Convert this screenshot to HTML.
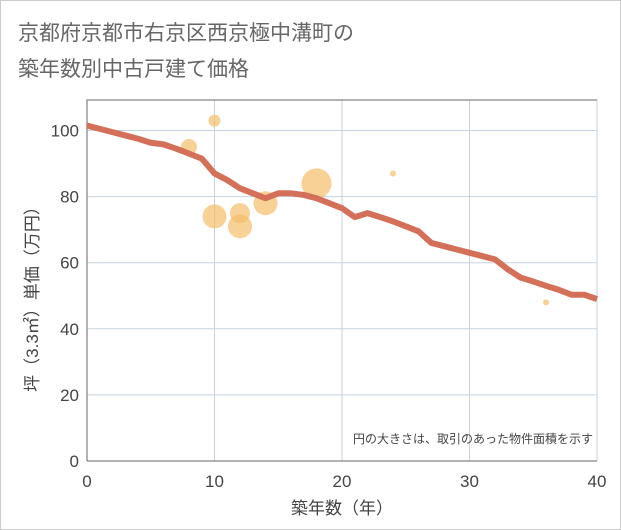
<!DOCTYPE html>
<html><head><meta charset="utf-8"><style>
body{margin:0;background:#fff;font-family:"Liberation Sans","Noto Sans CJK JP",sans-serif}
</style></head><body>
<svg width="621" height="530" viewBox="0 0 621 530" style="display:block">
<rect x="0.5" y="0.5" width="620" height="529" fill="#fff" stroke="#ccc"/>
<text x="18" y="40" font-size="21" fill="#666" font-family="Liberation Sans,Noto Sans CJK JP,sans-serif">京都府京都市右京区西京極中溝町の</text>
<text x="18" y="76" font-size="21" fill="#666" font-family="Liberation Sans,Noto Sans CJK JP,sans-serif">築年数別中古戸建て価格</text>
<g id="plot"></g>
</svg>
<script>
const lineX=[0,1,2,3,4,5,6,7,8,9,10,11,12,13,14,15,16,17,18,19,20,21,22,23,24,25,26,27,28,29,30,31,32,33,34,35,36,37,38,39,40];
const lineY=[101.5,100.5,99.5,98.5,97.5,96.3,95.8,94.5,93,91.5,87,85,82.5,81,79.5,81,81,80.5,79.5,78,76.5,73.8,75,73.8,72.5,71,69.5,66,65,64,63,62,61,60,58,55.5,54.3,53,51.8,50.3,50.3,49];
lineY.splice(33,1);
const bubX=[8,10,10,12,12,14,18,24,36];
const bubY=[95,103,74,75,71,78,84,87,48];
const bubR=[8,6,12,10,12,12,15,3,3];
const xTicks=[0,10,20,30,40];
const yTicks=[0,20,40,60,80,100];
const L=87,R=597,T=100,B=461;
const sx=v=>L+(R-L)*v/40, sy=v=>B-(B-130.5)*v/100;
const ns='http://www.w3.org/2000/svg',g=document.getElementById('plot');
function el(t,a,p){const e=document.createElementNS(ns,t);for(const k in a)e.setAttribute(k,a[k]);(p||g).appendChild(e);return e;}
xTicks.forEach(v=>{const e=el('line',{x1:sx(v),x2:sx(v),y1:T,y2:B,stroke:'#c5d3e0','stroke-width':1});


const t=el('text',{x:sx(v),y:B+26,'text-anchor':'middle','font-size':17,fill:'#444'});t.textContent=v;

});
yTicks.forEach(v=>{const e=el('line',{x1:L,x2:R,y1:sy(v),y2:sy(v),stroke:'#c5d3e0','stroke-width':1});


const t=el('text',{x:L-8,y:sy(v)+6,'text-anchor':'end','font-size':17,fill:'#444'});t.textContent=v;

});
const fr=el('path',{d:`M${L},${B}V${T}H${R}`,fill:'none',stroke:'#999','stroke-width':1.5});


const ax=el('line',{x1:L,x2:R,y1:B,y2:B,stroke:'#666','stroke-width':1});


bubX.forEach((v,i)=>{const c=el('circle',{cx:sx(v),cy:sy(bubY[i]),r:bubR[i],fill:'#f3bd6a','fill-opacity':0.7});

});
const p=el('polyline',{points:lineX.map((v,i)=>sx(v)+','+sy(lineY[i])).join(' '),fill:'none',stroke:'#d4705a','stroke-width':6,'stroke-linejoin':'round'});


const n=el('text',{x:593,y:443,'text-anchor':'end','font-size':12,fill:'#444'});n.textContent='円の大きさは、取引のあった物件面積を示す';


const xt=el('text',{x:342,y:514,'text-anchor':'middle','font-size':17,fill:'#444'});xt.textContent='築年数（年）';


const yt=el('text',{x:0,y:0,'text-anchor':'middle','font-size':17,fill:'#444',transform:'translate(38,295) rotate(-90)'});yt.textContent='坪（3.3㎡）単価（万円）';


</script>
</body></html>
